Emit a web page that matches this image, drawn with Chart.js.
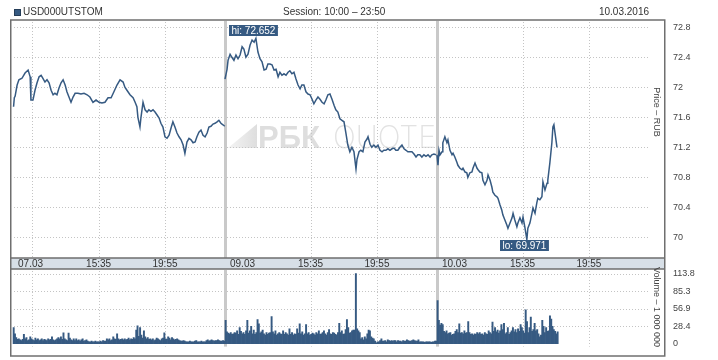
<!DOCTYPE html>
<html><head><meta charset="utf-8">
<script src="https://cdn.jsdelivr.net/npm/chart.js@4/dist/chart.umd.min.js"></script>
<style>
html,body{margin:0;padding:0;background:#fff;}
#wrap{position:relative;width:718px;height:360px;overflow:hidden;}
canvas{position:absolute;left:0;top:0;}
</style></head><body>
<div id="wrap"><canvas id="price" width="718" height="360"></canvas><canvas id="vol" width="718" height="360"></canvas></div>
<script>
// ---------- DATA ----------
const symbolName = 'USD000UTSTOM';
const sessionText = 'Session: 10:00 \u2013 23:50';
const chartDate = '10.03.2016';
const sessionDates = ['07.03', '09.03', '10.03'];
const sessionMinutes = 830;               // 10:00 .. 23:50
const timeLabels = ['15:35', '19:55'];
const timeLabelMinutes = [335, 595];       // minutes after 10:00
const extraGridMinutes = [75];             // 11:15 gridline in first session
const priceTicks = [70, 70.4, 70.8, 71.2, 71.6, 72, 72.4, 72.8];
const priceTickLabels = ['70', '70.4', '70.8', '71.2', '71.6', '72', '72.4', '72.8'];
const volumeTicks = [0, 28.4, 56.9, 85.3, 113.8];
const volumeTickLabels = ['0', '28.4', '56.9', '85.3', '113.8'];

// minutes after 10:00 within each session, and prices (RUB)
const times1 = [2,5,8,16,23,35,47,59,67,70,78,86,94,102,110,117,125,133,141,149,157,164,172,180,188,196,204,211,219,227,235,243,254,266,278,290,301,313,325,337,348,360,372,384,395,407,419,431,438,446,458,470,478,485,489,497,501,509,517,525,532,540,548,556,564,572,579,587,595,603,611,619,626,634,642,650,658,666,673,681,689,697,705,713,720,728,736,744,752,760,767,775,783,791,799,806,814,822,829];
const price1 = [71.74,71.86,71.88,72.03,72.10,72.12,72.19,72.23,72.14,71.83,71.83,71.96,72.06,72.14,72.16,72.12,72.07,72.10,72.06,71.96,71.90,71.92,71.90,71.99,72.06,72.10,72.03,71.94,71.87,71.80,71.87,71.92,71.92,71.91,71.92,71.90,71.87,71.80,71.83,71.80,71.79,71.80,71.86,71.86,71.94,72.03,72.10,72.07,72.00,71.96,71.90,71.86,71.80,71.74,71.60,71.47,71.60,71.80,71.70,71.67,71.70,71.68,71.70,71.67,71.63,71.59,71.52,71.47,71.34,71.32,71.36,71.46,71.54,71.47,71.39,71.34,71.30,71.23,71.12,71.27,71.32,71.30,71.26,71.27,71.34,71.40,71.43,71.36,71.34,71.39,71.47,71.48,71.51,71.52,71.54,71.56,71.52,71.50,71.48];
const times2 = [0,8,12,20,27,35,43,51,59,67,74,82,90,98,106,114,121,129,137,145,153,161,168,176,184,192,200,208,215,223,231,239,247,254,262,270,278,286,294,301,309,317,325,333,341,348,356,364,372,380,388,395,403,411,419,427,434,442,450,458,466,473,481,489,497,505,513,517,525,532,540,548,556,560,568,575,583,591,599,607,615,622,630,638,646,654,662,669,677,685,693,701,709,716,724,732,740,748,755,763,771,779,787,795,803,810,818,826];
const price2 = [72.11,72.24,72.36,72.44,72.40,72.36,72.43,72.38,72.43,72.54,72.51,72.40,72.44,72.56,72.63,72.60,72.652,72.47,72.38,72.34,72.23,72.24,72.31,72.31,72.30,72.23,72.24,72.14,72.20,72.16,72.18,72.16,72.20,72.22,72.18,72.20,72.11,72.03,71.98,72.03,72.03,71.94,71.91,71.90,71.84,71.78,71.83,71.87,71.84,71.80,71.78,71.83,71.90,71.91,71.84,71.76,71.70,71.67,71.58,71.56,71.54,71.40,71.23,71.14,71.20,71.14,70.91,71.04,71.14,71.16,71.14,71.27,71.31,71.34,71.24,71.20,71.23,71.20,71.23,71.16,71.14,71.16,71.16,71.18,71.16,71.18,71.19,71.16,71.16,71.20,71.23,71.18,71.16,71.14,71.14,71.14,71.11,71.07,71.10,71.10,71.07,71.10,71.08,71.10,71.07,71.10,71.11,71.10];
const times3 = [0,4,8,12,20,23,31,39,43,51,59,63,70,78,82,90,98,102,110,117,121,129,137,141,149,157,161,168,176,180,188,196,200,208,215,219,227,235,239,247,254,258,266,274,278,286,294,298,305,313,317,325,333,337,344,352,356,364,372,376,384,391,395,403,411,415,423,431,434,442,450,454,458,462,466,470];
const price3 = [71.10,70.96,71.16,71.10,71.14,71.26,71.34,71.26,71.30,71.16,71.10,71.12,71.07,71.00,70.96,70.92,70.90,70.92,70.87,70.86,70.80,70.86,70.87,70.92,70.99,70.92,70.90,70.87,70.86,70.76,70.70,70.76,70.83,70.76,70.67,70.60,70.56,70.54,70.52,70.43,70.36,70.30,70.23,70.16,70.12,70.19,70.26,70.32,70.23,70.14,70.19,70.26,70.19,70.27,70.14,69.971,70.12,70.19,70.32,70.39,70.32,70.46,70.52,70.50,70.54,70.74,70.63,70.72,70.76,70.99,71.26,71.47,71.50,71.40,71.30,71.20];

// volume, millions, per 5-minute bar from 10:00
const volumeBarMinutes = 5;
const vol1 = [26,16,10,7,8,6,5,7,15,8,10,5,6,11,8,6,5,9,6,8,5,6,8,5,7,6,5,8,6,7,11,6,5,6,8,10,8,11,7,17.5,8,6,5,17,9,6,5,8,5,8,5,6,4,6,8,4,5,6,4,3,3,4,3,3,4,3,3,3,4,3,5,4,4,8,6,8,5,6,11,8,7,16,8,6,7,8,6,8,6,7,9,6,8,7,10,8,22,29,12,26,14,9,21,11,8,10,7,8,6,8,5,6,9,8,6,5,8,9,17.5,8,7,11,9,6,10,8,6,7,8,6,5,4,4,5,4,3,3,3,4,3,3,3,4,5,3,3,3,4,3,3,3,5,6,4,5,6,5,4,5,5,6,5,4,4,5,4];
const vol2 = [38,19,17,16,18,15,16,18,17,21,15,26,20,16,18,15,21,38,17,21,28,16,22,15,18,39,32,17,19,22,16,14,18,15,17,18,44,19,16,21,14,16,18,16,15,21,15,18,16,14,24,15,18,14,16,15,24,17,32,16,19,14,16,31,16,18,14,15,17,16,14,18,16,21,15,16,18,21,16,14,18,23,16,15,18,17,15,14,18,33,18,21,15,16,23,39,26,17,18,21,22,22,113.8,24,21,18,8,10,6,11,8,16,22,21,11,9,8,4,1.5,3,3,5,8,4,4,5,3,6,5,4,5,4,5,5,3,5,4,4,3,5,4,4,6,5,4,4,5,6,5,4,4,6,3,3,3,3,2,3,3,3,3,2,3,3,4,4];
const vol3 = [70,38,30,33,31,20,18,21,16,17,18,14,15,16,20,23,18,32,17,18,16,21,17,18,36,18,15,16,14,16,15,18,16,18,15,16,14,18,16,15,21,18,16,35,20,26,19,22,17,21,31,23,33,16,18,26,15,18,21,26,19,23,18,24,20,31,26,21,17,55,36,18,26,43,20,23,33,21,23,16,11,14,38,28,18,26,20,21,45,40,28,23,20,16,19];

// ---------- STYLE ----------
const FONT = 'Liberation Sans';
const BLUE = '#365a82';
const GRID = '#c4c4c4';
const SEP = '#c9c9c9';
const FRAME = '#6f6f6f';
const X_MIN = -8, X_MAX = 2553;

Chart.defaults.font.family = FONT;

const priceSets = [[times1, price1], [times2, price2], [times3, price3]].map(([t, p], s) => ({
  data: t.map((m, i) => ({x: s * sessionMinutes + m, y: p[i]})),
  borderColor: BLUE, borderWidth: 1.5, pointRadius: 0, tension: 0, fill: false
}));
const volData = [];
[vol1, vol2, vol3].forEach((arr, s) => arr.forEach((v, i) => volData.push({x: s * sessionMinutes + volumeBarMinutes * i + volumeBarMinutes / 2, y: v})));

function drawVerticalGrid(chart) {
  const ctx = chart.ctx, a = chart.chartArea, xs = chart.scales.x;
  ctx.save();
  ctx.strokeStyle = GRID; ctx.lineWidth = 1; ctx.setLineDash([1, 2]);
  const mins = [];
  extraGridMinutes.forEach(m => mins.push(m));
  for (let s = 0; s < 3; s++) timeLabelMinutes.forEach(m => mins.push(s * sessionMinutes + m));
  mins.forEach(m => {
    const x = Math.round(xs.getPixelForValue(m)) + 0.5;
    ctx.beginPath(); ctx.moveTo(x, a.top + 2); ctx.lineTo(x, a.bottom); ctx.stroke();
  });
  ctx.restore();
}
function drawHorizontalGrid(chart, ticks) {
  const ctx = chart.ctx, a = chart.chartArea, ys = chart.scales.y;
  ctx.save();
  ctx.strokeStyle = GRID; ctx.lineWidth = 1; ctx.setLineDash([1, 2]);
  ticks.forEach(v => {
    if (v === 0) return;
    const y = Math.round(ys.getPixelForValue(v)) + 0.5;
    ctx.beginPath(); ctx.moveTo(a.left + 3, y); ctx.lineTo(a.right - 15, y); ctx.stroke();
  });
  ctx.restore();
}
function drawSeparators(chart) {
  const ctx = chart.ctx, a = chart.chartArea, xs = chart.scales.x;
  ctx.save(); ctx.fillStyle = SEP;
  for (let s = 1; s < 3; s++) {
    const x = xs.getPixelForValue(s * sessionMinutes);
    ctx.fillRect(Math.round(x) - 1, a.top + 1, 3, a.bottom - a.top - 1);
  }
  ctx.restore();
}
function drawTitle(chart, text, cy) {
  const ctx = chart.ctx, a = chart.chartArea;
  ctx.save();
  ctx.translate(a.right - 9, cy);
  ctx.rotate(Math.PI / 2);
  ctx.font = '9px ' + FONT; ctx.fillStyle = '#444';
  ctx.textAlign = 'center'; ctx.textBaseline = 'middle';
  ctx.fillText(text, 0, 0);
  ctx.restore();
}
function drawTag(ctx, text, cx, y, above) {
  ctx.save();
  ctx.font = '10px ' + FONT;
  const w = ctx.measureText(text).width + 5, h = 11;
  const left = Math.round(cx - w / 2 - 2);
  const top = above ? Math.round(y - h - 2) : Math.round(y + 1);
  ctx.fillStyle = BLUE; ctx.fillRect(left, top, w, h);
  ctx.fillStyle = '#fff'; ctx.textBaseline = 'middle'; ctx.textAlign = 'left';
  ctx.fillText(text, left + 2.5, top + h / 2 + 0.5);
  ctx.restore();
}

const pricePlugin = {
  id: 'pricePanel',
  beforeDatasetsDraw(chart) {
    const ctx = chart.ctx, a = chart.chartArea;
    // watermark
    ctx.save();
    const wx = chart.scales.x.getPixelForValue(sessionMinutes) + 3, wy = 148;
    const g = ctx.createLinearGradient(wx, 0, wx + 29, 0);
    g.addColorStop(0, '#f4f4f4'); g.addColorStop(1, '#dedede');
    ctx.fillStyle = g;
    ctx.beginPath(); ctx.moveTo(wx, wy); ctx.lineTo(wx + 29, wy - 24); ctx.lineTo(wx + 29, wy); ctx.closePath(); ctx.fill();
    ctx.fillStyle = '#dedede';
    ctx.font = 'bold 31px ' + FONT; ctx.textBaseline = 'alphabetic';
    ctx.fillText('\u0420\u0411\u041a', wx + 30, wy);
    ctx.font = '200 31px Inter';
    const qw = ctx.measureText('QUOTE').width;
    ctx.save(); ctx.translate(wx + 105, wy); ctx.scale(103 / qw, 1);
    ctx.fillStyle = '#e2e2e2'; ctx.fillText('QUOTE', 0, 0); ctx.restore();
    ctx.restore();
    drawHorizontalGrid(chart, priceTicks);
    drawVerticalGrid(chart);
    drawSeparators(chart);
  },
  afterDatasetsDraw(chart) {
    const ctx = chart.ctx, a = chart.chartArea, xs = chart.scales.x, ys = chart.scales.y;
    // hi / lo tags
    let hi = {v: -1e9}, lo = {v: 1e9};
    priceSets.forEach(ds => ds.data.forEach(p => {
      if (p.y > hi.v) hi = {v: p.y, x: p.x};
      if (p.y < lo.v) lo = {v: p.y, x: p.x};
    }));
    drawTag(ctx, 'hi: ' + hi.v.toFixed(3), xs.getPixelForValue(hi.x), ys.getPixelForValue(hi.v), true);
    drawTag(ctx, 'lo: ' + lo.v.toFixed(3), xs.getPixelForValue(lo.x), ys.getPixelForValue(lo.v), false);
    drawTitle(chart, 'Price \u2013 RUB', 112);

    // time strip
    const stripTop = a.bottom, stripH = 11;
    ctx.save();
    ctx.fillStyle = '#d7dfe7';
    ctx.fillRect(a.left, stripTop, a.right - a.left, stripH);
    ctx.fillStyle = '#333'; ctx.font = '10px ' + FONT; ctx.textBaseline = 'middle';
    for (let s = 0; s < 3; s++) {
      ctx.textAlign = 'left';
      ctx.fillText(sessionDates[s], xs.getPixelForValue(s * sessionMinutes) + 5, stripTop + stripH / 2 + 0.5);
      ctx.textAlign = 'center';
      timeLabels.forEach((t, i) => ctx.fillText(t, xs.getPixelForValue(s * sessionMinutes + timeLabelMinutes[i]), stripTop + stripH / 2 + 0.5));
    }
    // frame
    ctx.strokeStyle = FRAME; ctx.lineWidth = 1.5;
    ctx.strokeRect(a.left - 0.25, a.top, a.right - a.left, 356 - a.top);
    ctx.beginPath(); ctx.moveTo(a.left, stripTop); ctx.lineTo(a.right, stripTop);
    ctx.moveTo(a.left, stripTop + stripH); ctx.lineTo(a.right, stripTop + stripH); ctx.stroke();

    // header
    ctx.fillStyle = BLUE; ctx.fillRect(14, 9, 7, 7);
    ctx.strokeStyle = '#253d58'; ctx.lineWidth = 1; ctx.strokeRect(14.5, 9.5, 6, 6);
    ctx.fillStyle = '#333'; ctx.font = '10px ' + FONT; ctx.textAlign = 'left'; ctx.textBaseline = 'middle';
    ctx.fillText(symbolName, 23, 12.5);
    ctx.fillText(sessionText, 283, 12.5);
    ctx.textAlign = 'right';
    ctx.fillText(chartDate, 649, 12.5);
    ctx.restore();
  }
};

const volPlugin = {
  id: 'volPanel',
  beforeDatasetsDraw(chart) {
    drawHorizontalGrid(chart, volumeTicks);
    drawVerticalGrid(chart);
    drawSeparators(chart);
  },
  afterDatasetsDraw(chart) {
    drawTitle(chart, 'Volume \u2013 1 000 000', 307);
  }
};

const yCommon = (min, max, ticks, labels) => ({
  position: 'right', min, max,
  afterBuildTicks: s => { s.ticks = ticks.map(v => ({value: v})); },
  afterFit: s => { s.width = 53; },
  grid: {display: false, drawTicks: false}, border: {display: false},
  ticks: {padding: 8, color: '#444', font: {family: FONT, size: 9}, callback: (v) => labels[ticks.indexOf(v)]}
});

new Chart(document.getElementById('price'), {
  type: 'line',
  data: {datasets: priceSets},
  options: {
    responsive: false, animation: false, devicePixelRatio: 1,
    layout: {padding: {left: 11, top: 20, right: 0, bottom: 102}},
    plugins: {legend: {display: false}, tooltip: {enabled: false}},
    scales: {
      x: {type: 'linear', min: X_MIN, max: X_MAX, display: false},
      y: yCommon(69.724, 72.897, priceTicks, priceTickLabels)
    }
  },
  plugins: [pricePlugin]
});

new Chart(document.getElementById('vol'), {
  type: 'bar',
  data: {datasets: [{data: volData, backgroundColor: BLUE, barPercentage: 1, categoryPercentage: 1}]},
  options: {
    responsive: false, animation: false, devicePixelRatio: 1,
    layout: {padding: {left: 11, top: 269, right: 0, bottom: 4}},
    plugins: {legend: {display: false}, tooltip: {enabled: false}},
    scales: {
      x: {type: 'linear', min: X_MIN, max: X_MAX, display: false, offset: false},
      y: yCommon(-4.8, 121.3, volumeTicks, volumeTickLabels)
    }
  },
  plugins: [volPlugin]
});
</script></body></html>
